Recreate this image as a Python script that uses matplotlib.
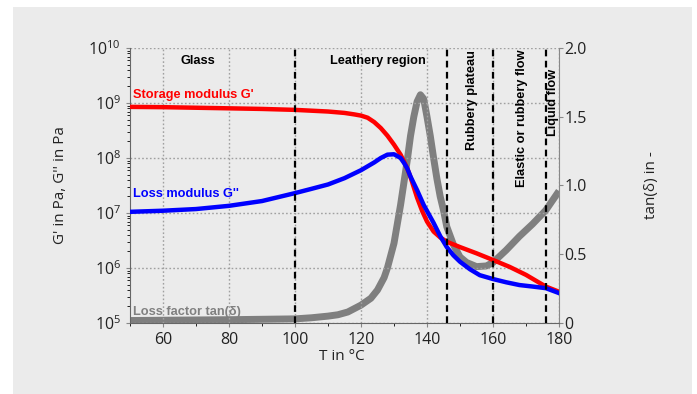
import matplotlib
matplotlib.use("Agg")
import matplotlib.pyplot as plt
from matplotlib.patches import Rectangle
import numpy as np

plt.rcParams['font.family'] = ['Open Sans', 'DejaVu Sans']

# Storage modulus G'
T_gp = [50, 60, 70, 80, 90, 100, 110, 115, 118, 120, 122, 124, 126, 128, 130, 132, 134, 135, 137, 138.5, 140, 142, 144, 146, 150, 155, 160, 165, 170, 176, 180]
G_p = [8.5e8, 8.4e8, 8.2e8, 8.0e8, 7.8e8, 7.5e8, 7.0e8, 6.6e8, 6.2e8, 5.9e8, 5.4e8, 4.5e8, 3.5e8, 2.55e8, 1.75e8, 1.15e8, 6.5e7, 4.5e7, 1.9e7, 1.1e7, 7.0e6, 4.6e6, 3.6e6, 3.0e6, 2.4e6, 1.85e6, 1.4e6, 1.05e6, 7.5e5, 4.6e5, 3.7e5]

# Loss modulus G''
T_gpp = [50, 60, 70, 80, 90, 100, 105, 110, 115, 120, 124, 126, 128, 130, 132, 133, 134, 135, 137, 139, 142, 144, 146, 148, 150, 153, 156, 160, 164, 168, 172, 176, 180]
G_pp = [1.05e7, 1.1e7, 1.18e7, 1.35e7, 1.65e7, 2.3e7, 2.75e7, 3.3e7, 4.3e7, 6.0e7, 8.3e7, 1.0e8, 1.15e8, 1.17e8, 1.0e8, 8.2e7, 6.5e7, 4.6e7, 2.6e7, 1.4e7, 6.6e6, 3.8e6, 2.4e6, 1.7e6, 1.3e6, 9.5e5, 7.4e5, 6.3e5, 5.5e5, 4.9e5, 4.6e5, 4.3e5, 3.5e5]

# Loss factor tan(delta)
T_tan = [50, 60, 70, 80, 90, 100, 105, 110, 113, 116, 120, 123, 125, 127, 128, 130, 132, 134, 135, 136, 137, 138, 139, 140, 141, 142, 143, 144, 145, 146, 148, 150, 152, 155, 158, 160, 164, 168, 172, 176, 180]
tan_d = [0.018, 0.02, 0.022, 0.024, 0.027, 0.03, 0.038, 0.05, 0.06, 0.08, 0.13, 0.18, 0.24, 0.33, 0.4, 0.58, 0.86, 1.18, 1.36, 1.5, 1.61, 1.66, 1.63, 1.5, 1.36, 1.2, 1.05, 0.92, 0.82, 0.7, 0.57, 0.48, 0.44, 0.41, 0.415, 0.44, 0.53, 0.63, 0.72, 0.82, 0.96]

region_bounds = [100, 146, 160, 176]

W, H = 697, 394
fig = plt.figure(figsize=(W / 100, H / 100), dpi=100)
fig.patch.set_facecolor('white')
fig.patches.append(Rectangle((13 / W, 0), (692 - 13) / W, 1 - 7 / H,
                             transform=fig.transFigure, facecolor='#ebebeb',
                             edgecolor='none', zorder=-10))

pos = [130 / W, 1 - 323 / H, (559 - 130) / W, (323 - 48) / H]
ax2 = fig.add_axes(pos)
ax2.set_facecolor('#ebebeb')
ax2.yaxis.tick_right()
ax2.set_xlim(50, 180)
ax2.set_ylim(0, 2.0)
ax2.set_yticks([0, 0.5, 1.0, 1.5, 2.0])
ax2.set_yticklabels(['0', '0.5', '1.0', '1.5', '2.0'])
ax2.set_xticks([])
for s in ('top', 'left', 'bottom'):
    ax2.spines[s].set_visible(False)
ax2.spines['right'].set_color('#888888')

ax = fig.add_axes(pos)
ax.patch.set_visible(False)
ax.set_yscale('log')
ax.set_xlim(50, 180)
ax.set_ylim(1e5, 1e10)
ax.set_xticks([60, 80, 100, 120, 140, 160, 180])
ax.set_xticks(np.arange(50, 181, 10), minor=True)
ax.grid(True, which='major', color='#a0a0a0', linestyle=(0, (1.2, 1.6)), linewidth=1.0)
ax.set_axisbelow(True)

for s in ('top', 'right'):
    ax.spines[s].set_visible(False)
for s in ('left', 'bottom'):
    ax.spines[s].set_color('#666666')

for a in (ax, ax2):
    a.tick_params(labelsize=11.5, colors='#888888', labelcolor='#222222', length=3, width=0.8)
    a.tick_params(which='minor', length=2, width=0.6)
ax2.tick_params(axis='y', pad=1)

ax2.plot(T_tan, tan_d, color='#7f7f7f', linewidth=5, solid_capstyle='butt',
         solid_joinstyle='round', zorder=2)

ax.plot(T_gp, G_p, color='#ff0000', linewidth=3.2, zorder=3)
ax.plot(T_gpp, G_pp, color='#0000ff', linewidth=3.2, zorder=4)

for xb in region_bounds:
    ax.axvline(xb, color='black', linestyle=(0, (3, 2)), linewidth=1.6, zorder=5)


def ypix(p):
    return 1e10 * 10 ** (-(p - 48) / 55)


bold = dict(fontweight='bold', fontsize=9.2, family=['Liberation Sans', 'DejaVu Sans'])
ax.text(70.6, ypix(61), 'Glass', ha='center', va='center', color='black', **bold)
ax.text(125, ypix(61), 'Leathery region', ha='center', va='center', color='black', **bold)
ax.text(153.6, ypix(100), 'Rubbery plateau', rotation=90,
        ha='center', va='center', color='black', **bold)
ax.text(168.8, ypix(118), 'Elastic or rubbery flow', rotation=90,
        ha='center', va='center', color='black', **bold)
ax.text(178.2, ypix(102), 'Liquid flow', rotation=90,
        ha='center', va='center', color='black', **bold)

ax.text(51, ypix(95), "Storage modulus G'", color='#ff0000',
        ha='left', va='center', **bold)
ax.text(51, ypix(194), "Loss modulus G''", color='#0000ff',
        ha='left', va='center', **bold)
ax.text(51, ypix(312), "Loss factor tan(δ)", color='#808080',
        ha='left', va='center', **bold)

fig.text(60 / W, 1 - 185 / H, "G' in Pa, G'' in Pa", rotation=90, ha='center',
         va='center', fontsize=11, color='#222222')
fig.text(652 / W, 1 - 185 / H, "tan(δ) in -", rotation=90, ha='center',
         va='center', fontsize=11, color='#222222')
fig.text(342 / W, 1 - 357 / H, "T in °C", ha='center', va='center',
         fontsize=11, color='#222222')

fig.savefig('out.png', dpi=100, facecolor='white')
